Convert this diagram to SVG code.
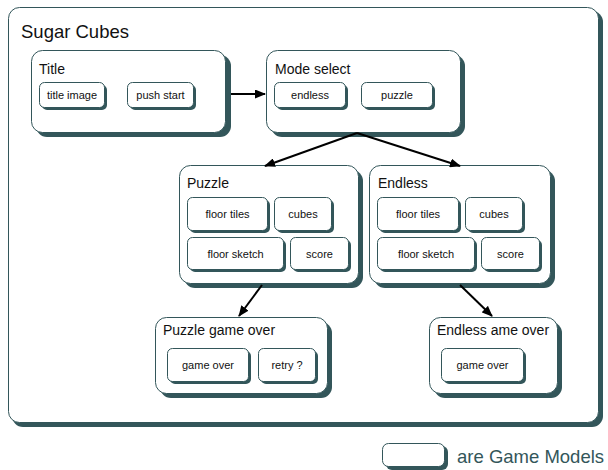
<svg xmlns="http://www.w3.org/2000/svg" width="608" height="470" viewBox="0 0 608 470">
<defs>
<style>
.sh{fill:#33565a}
.bx{fill:#fff;stroke:#33565a;stroke-width:1}
.lbl{font-family:"Liberation Sans",Arial,sans-serif;font-size:14px;fill:#111}
.sub{font-family:"Liberation Sans",Arial,sans-serif;font-size:11px;fill:#111;text-anchor:middle}
.big{font-family:"Liberation Sans",Arial,sans-serif;font-size:18.5px;fill:#111}
.leg{font-family:"Liberation Sans",Arial,sans-serif;font-size:18.5px;fill:#33565a}
.cn{stroke:#000;stroke-width:2;fill:none;marker-end:url(#ah)}
</style>
<marker id="ah" markerUnits="userSpaceOnUse" markerWidth="11" markerHeight="9" refX="10" refY="4.5" orient="auto">
<path d="M0,0 L11,4.5 L0,9 z" fill="#000"/>
</marker>
</defs>
<rect width="608" height="470" fill="#fff"/>

<g id="frame">
<rect class="sh" x="12" y="11" width="591" height="416" rx="11"/>
<rect class="bx" x="8.5" y="7.5" width="590" height="415" rx="11"/>
<text class="big" x="21" y="38">Sugar Cubes</text>
</g>

<g id="title">
<rect class="sh" x="36" y="55" width="195" height="82" rx="11"/>
<rect class="bx" x="31.5" y="50.5" width="194" height="82" rx="11"/>
<text class="lbl" x="39" y="74">Title</text>
<rect class="sh" x="42" y="85" width="65" height="25" rx="5"/>
<rect class="bx" x="39.5" y="82.5" width="65" height="25" rx="5"/>
<text class="sub" x="72" y="99">title image</text>
<rect class="sh" x="130" y="85" width="66" height="25" rx="5"/>
<rect class="bx" x="127.5" y="82.5" width="66" height="25" rx="5"/>
<text class="sub" x="160.5" y="99">push start</text>
</g>

<g id="mode">
<rect class="sh" x="271" y="55" width="194" height="82" rx="11"/>
<rect class="bx" x="266.5" y="50.5" width="194" height="82" rx="11"/>
<text class="lbl" x="275" y="74">Mode select</text>
<rect class="sh" x="277" y="85" width="71" height="25" rx="5"/>
<rect class="bx" x="274.5" y="82.5" width="71" height="25" rx="5"/>
<text class="sub" x="310" y="99">endless</text>
<rect class="sh" x="364" y="85" width="71" height="25" rx="5"/>
<rect class="bx" x="361.5" y="82.5" width="71" height="25" rx="5"/>
<text class="sub" x="397" y="99">puzzle</text>
</g>

<g id="puzzle">
<rect class="sh" x="184" y="170" width="179" height="118" rx="11"/>
<rect class="bx" x="179.5" y="165.5" width="179" height="118" rx="11"/>
<text class="lbl" x="187" y="188">Puzzle</text>
<rect class="sh" x="190" y="200" width="80" height="33" rx="5"/>
<rect class="bx" x="187.5" y="197.5" width="80" height="33" rx="5"/>
<text class="sub" x="227.5" y="218">floor tiles</text>
<rect class="sh" x="277" y="200" width="57" height="33" rx="5"/>
<rect class="bx" x="274.5" y="197.5" width="57" height="33" rx="5"/>
<text class="sub" x="303" y="218">cubes</text>
<rect class="sh" x="190" y="240" width="96" height="32" rx="5"/>
<rect class="bx" x="187.5" y="237.5" width="96" height="32" rx="5"/>
<text class="sub" x="235.5" y="258">floor sketch</text>
<rect class="sh" x="293" y="240" width="58" height="32" rx="5"/>
<rect class="bx" x="290.5" y="237.5" width="58" height="32" rx="5"/>
<text class="sub" x="319.5" y="258">score</text>
</g>

<g id="endless">
<rect class="sh" x="374" y="170" width="181" height="118" rx="11"/>
<rect class="bx" x="369.5" y="165.5" width="181" height="118" rx="11"/>
<text class="lbl" x="378" y="188">Endless</text>
<rect class="sh" x="380" y="200" width="81" height="33" rx="5"/>
<rect class="bx" x="377.5" y="197.5" width="81" height="33" rx="5"/>
<text class="sub" x="418" y="218">floor tiles</text>
<rect class="sh" x="468" y="200" width="57" height="33" rx="5"/>
<rect class="bx" x="465.5" y="197.5" width="57" height="33" rx="5"/>
<text class="sub" x="494" y="218">cubes</text>
<rect class="sh" x="380" y="240" width="97" height="32" rx="5"/>
<rect class="bx" x="377.5" y="237.5" width="97" height="32" rx="5"/>
<text class="sub" x="426" y="258">floor sketch</text>
<rect class="sh" x="484" y="240" width="58" height="32" rx="5"/>
<rect class="bx" x="481.5" y="237.5" width="58" height="32" rx="5"/>
<text class="sub" x="510.5" y="258">score</text>
</g>

<g id="puzzle-game-over">
<rect class="sh" x="160" y="322" width="172" height="76" rx="11"/>
<rect class="bx" x="155.5" y="317.5" width="172" height="76" rx="11"/>
<text class="lbl" x="163" y="335">Puzzle game over</text>
<rect class="sh" x="170" y="351" width="81" height="33" rx="5"/>
<rect class="bx" x="167.5" y="348.5" width="81" height="33" rx="5"/>
<text class="sub" x="208" y="369">game over</text>
<rect class="sh" x="261" y="351" width="57" height="33" rx="5"/>
<rect class="bx" x="258.5" y="348.5" width="57" height="33" rx="5"/>
<text class="sub" x="287" y="369">retry ?</text>
</g>

<g id="endless-game-over">
<rect class="sh" x="434" y="322" width="128" height="76" rx="11"/>
<rect class="bx" x="429.5" y="317.5" width="128" height="76" rx="11"/>
<text class="lbl" x="437" y="335">Endless ame over</text>
<rect class="sh" x="444" y="351" width="82" height="33" rx="5"/>
<rect class="bx" x="441.5" y="348.5" width="82" height="33" rx="5"/>
<text class="sub" x="482.5" y="369">game over</text>
</g>

<g id="connectors">
<line class="cn" x1="231" y1="94" x2="265" y2="94"/>
<line class="cn" x1="357" y1="133" x2="265" y2="166"/>
<line class="cn" x1="357" y1="133" x2="460" y2="166"/>
<line class="cn" x1="262" y1="285" x2="239" y2="316"/>
<line class="cn" x1="460" y1="285" x2="492" y2="316"/>
</g>

<g id="legend">
<rect class="sh" x="386" y="446" width="62" height="24" rx="6"/>
<rect class="bx" x="382.5" y="443.5" width="62" height="23" rx="6"/>
<text class="leg" x="457" y="463">are Game Models</text>
</g>
</svg>
